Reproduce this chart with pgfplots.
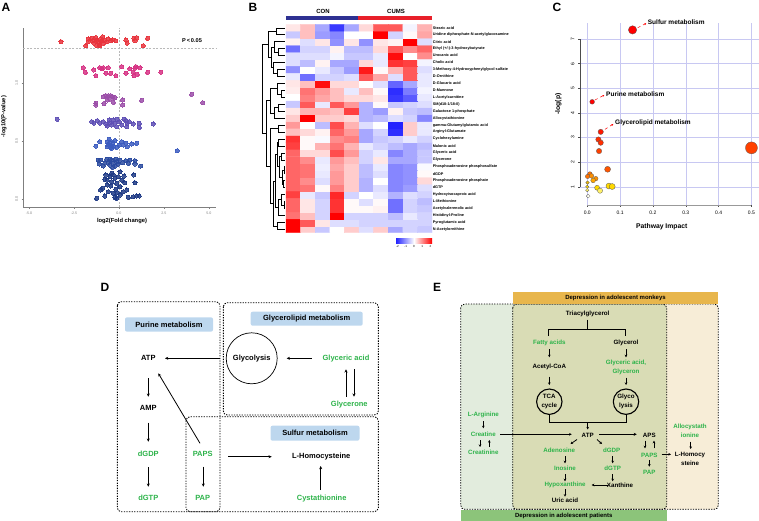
\documentclass[border=0pt]{standalone}
\usepackage{pgfplots}
\pgfplotsset{compat=1.18}
\usepackage{fontspec}
\setmainfont{Liberation Sans}
\usetikzlibrary{arrows.meta}
\definecolor{cR}{HTML}{E8333C}
\definecolor{cP}{HTML}{D63384}
\definecolor{cU}{HTML}{9B4EA8}
\definecolor{cBP}{HTML}{5E4FB5}
\definecolor{cB}{HTML}{3B5BBF}
\definecolor{cDB}{HTML}{2A4A9F}
\definecolor{cN}{HTML}{1E3A85}
\definecolor{axgray}{HTML}{7F7F7F}
\definecolor{h1}{HTML}{FF0000}
\definecolor{h2}{HTML}{FF1800}
\definecolor{h3}{HTML}{FF2E00}
\definecolor{h4}{HTML}{FF4000}
\definecolor{h5}{HTML}{FF5500}
\definecolor{h6}{HTML}{FF7000}
\definecolor{h7}{HTML}{FF9000}
\definecolor{h8}{HTML}{FFA500}
\definecolor{h9}{HTML}{F0B800}
\definecolor{h10}{HTML}{FFD800}
\definecolor{h11}{HTML}{FFF066}
\definecolor{h12}{HTML}{FFFFF0}
\definecolor{gridc}{HTML}{C8C8F2}
\definecolor{mg}{HTML}{2DB34A}
\definecolor{lb}{HTML}{BDD7EE}
\definecolor{eLeft}{HTML}{E2ECDD}
\definecolor{eMid}{HTML}{D9DCB5}
\definecolor{eRight}{HTML}{F7EDD7}
\definecolor{eTop}{HTML}{E8B64C}
\definecolor{eBot}{HTML}{8CC47A}
\definecolor{conC}{HTML}{2E3192}
\definecolor{cumC}{HTML}{E8202A}
\definecolor{cbBlue}{RGB}{35,35,255}
\tikzset{
 dt/.style={font=\fontsize{7.5}{9}\selectfont\bfseries, inner sep=0pt},
 et/.style={font=\fontsize{6.2}{8.7}\selectfont\bfseries, inner sep=0pt, align=center},
 dar/.style={line width=0.8pt, -{Stealth[length=3.2pt,width=3pt]}},
 ear/.style={line width=0.8pt, -{Stealth[length=2.6pt,width=2.6pt]}},
 dbox/.style={line width=0.9pt, dash pattern=on 1.3pt off 1.3pt, rounded corners=4pt},
 lett/.style={font=\fontsize{12}{12}\selectfont\bfseries, inner sep=0pt},
 cbl/.style={font=\fontsize{3}{3}\selectfont},
}
\pgfplotsset{dots/.style={#1, only marks, mark=*, mark size=2.05pt, mark options={draw=#1, fill=#1, line width=0pt}, opacity=0.85}}
\newcommand{\dd}[5]{\draw[line width=0.45pt] (axis cs:#2,#1) -- (axis cs:#5,#1) -- (axis cs:#5,#3) -- (axis cs:#4,#3);}
\newcommand{\bub}[4]{\addplot[only marks, mark=*, mark size=#3pt, mark options={fill=#4, draw=black!65, line width=0.3pt}] coordinates {(#1,#2)};}
\begin{document}
\begin{tikzpicture}
\useasboundingbox (0,0) rectangle (759pt,-521pt);
% ---------------- Panel A
\begin{axis}[at={(23pt,-207pt)}, anchor=south west, width=193pt, height=179pt, scale only axis,
  xmin=-5.33, xmax=5.39, ymin=-0.069, ymax=1.479,
  axis x line=bottom, axis y line=left, axis line style={-, draw=axgray, line width=0.5pt},
  xtick={-5,-2.5,0,2.5,5}, xticklabels={-5.0,-2.5,0.0,2.5,5.0},
  ytick={0,0.5,1}, yticklabels={0.0,0.5,1.0},
  tick align=outside, major tick length=1.5pt, tick style={draw=axgray, line width=0.4pt},
  tick label style={font=\fontsize{3.6}{4}\selectfont, text=axgray},
  yticklabel style={rotate=90, anchor=south},
  clip=false]
\draw[gray!55, dash pattern=on 2pt off 1.5pt, line width=0.5pt] (axis cs:0,-0.069) -- (axis cs:0,1.479);
\draw[gray!55, dash pattern=on 2pt off 1.5pt, line width=0.5pt] (axis cs:-5.33,1.301) -- (axis cs:5.39,1.301);
\addplot[dots=cR] coordinates {(-3.22,1.361)(-1.85,1.324)(-1.70,1.384)(-1.70,1.361)(-1.52,1.39)(-1.46,1.367)(-1.39,1.347)(-1.28,1.396)(-1.24,1.326)(-1.20,1.375)(-1.15,1.355)(-1.09,1.332)(-1.06,1.326)(-1.02,1.384)(-0.96,1.367)(-0.91,1.404)(-0.87,1.347)(-0.78,1.375)(-0.69,1.361)(-0.59,1.384)(-0.46,1.367)(-0.35,1.375)(-0.17,1.367)(0.39,1.375)(0.46,1.347)(0.83,1.39)(0.89,1.367)(0.98,1.396)(1.35,1.326)(1.59,1.39)};
\addplot[dots=cP] coordinates {(-1.98,1.136)(-1.87,1.096)(-1.39,1.116)(-1.28,1.067)(-1.06,1.136)(-0.96,1.125)(-0.87,1.136)(-0.72,1.087)(-0.59,1.136)(-0.46,1.087)(-0.17,1.067)(0.15,1.145)(0.39,1.087)(0.61,1.125)(0.80,1.096)(0.89,1.13)(0.94,1.145)(0.83,1.067)(1.02,1.078)(1.17,1.136)(1.59,1.096)(2.33,1.096)};
\addplot[dots=cU] coordinates {(-1.28,0.828)(-1.28,0.813)(-0.87,0.885)(-0.72,0.894)(-0.59,0.894)(-0.46,0.894)(-0.35,0.885)(-0.65,0.856)(-0.83,0.825)(-0.50,0.865)(-0.31,0.836)(-0.22,0.877)(0.20,0.856)(0.20,0.813)(1.26,0.853)(4.04,0.905)(4.65,0.833)};
\addplot[dots=cBP] coordinates {(-3.43,0.689)(-1.52,0.669)(-1.39,0.655)(-1.20,0.678)(-1.06,0.655)(-0.87,0.669)(-0.72,0.649)(-0.65,0.631)(-0.50,0.66)(-0.41,0.64)(-0.31,0.683)(-0.22,0.655)(-0.13,0.626)(0.02,0.669)(0.15,0.64)(0.28,0.689)(0.39,0.678)(0.46,0.655)(0.57,0.669)(0.43,0.626)(0.80,0.649)(1.13,0.655)(1.13,0.62)(1.91,0.649)(-0.54,0.683)(-0.09,0.689)};
\addplot[dots=cB] coordinates {(-1.28,0.458)(-1.06,0.496)(-0.65,0.496)(-0.59,0.467)(-0.50,0.487)(-0.46,0.447)(-0.35,0.482)(-0.31,0.458)(-0.22,0.505)(-0.41,0.438)(-0.65,0.453)(-0.13,0.447)(0.15,0.496)(0.24,0.467)(0.39,0.482)(0.46,0.453)(0.70,0.476)(0.98,0.482)(3.24,0.418)(-0.54,0.516)(0.02,0.467)};
\addplot[dots=cDB] coordinates {(-1.09,0.303)(-1.02,0.337)(-0.87,0.285)(-0.69,0.343)(-0.59,0.314)(-0.50,0.294)(-0.41,0.337)(-0.31,0.309)(-0.22,0.285)(-0.13,0.323)(-0.04,0.303)(-0.78,0.309)(-0.35,0.274)(0.06,0.337)(0.20,0.314)(0.39,0.332)(0.52,0.309)(0.61,0.337)(0.89,0.332)(0.89,0.303)(1.20,0.285)(-1.15,0.337)(-0.50,0.343)(-0.17,0.343)};
\addplot[dots=cN] coordinates {(-0.72,0.208)(-0.65,0.164)(-0.50,0.193)(-0.41,0.150)(-0.31,0.208)(-0.22,0.179)(-0.13,0.136)(-0.04,0.193)(0.15,0.164)(0.28,0.199)(0.06,0.107)(-0.46,0.112)(-0.65,0.121)(-0.17,0.084)(-1.02,0.078)(-0.91,0.092)(-0.59,0.063)(-0.31,0.049)(-0.09,0.055)(0.06,0.035)(0.24,0.063)(0.43,0.078)(-1.24,0.006)(-0.78,0.026)(-0.22,0.014)(-0.13,0.006)(0.52,0.014)(0.80,0.020)(0.98,0.026)(1.13,0.026)(0.89,0.141)(0.83,0.208)(-0.78,0.170)(0.06,0.236)(0.33,0.141)(-0.41,0.222)};
\end{axis}
% ---------------- Panel B heatmap
\begin{axis}[at={(286pt,-232.7pt)}, anchor=south west, width=146pt, height=208.4pt, scale only axis,
  xmin=0.5, xmax=10.5, ymin=0.5, ymax=30.5, clip=false,
  axis line style={draw=none}, xtick=\empty,
  ytick={1,...,30}, yticklabel pos=right, major tick length=0pt, ytick style={draw=none},
  yticklabel style={font=\fontsize{3.8}{4}\selectfont\bfseries, inner sep=0.6pt},
  yticklabels={N-Acetylornithine,Pyroglutamic acid,Histidinyl-Proline,Acetylvalerenolic acid,L-Methionine,Hydroxyisocaproic acid,dGTP,Phosphoadenosine phosphate,dGDP,Phosphoadenosine phosphosulfate,Glycerone,Glyceric acid,Malonic acid,Cyclohexylamine,Arginyl-Glutamate,gamma-Glutamylglutamic acid,Allocystathionine,Galactose 1-phosphate,SM(d18:1/18:0),L-Acetylcarnitine,D-Mannose,D-Glucaric acid,D-Ornithine,3-Methoxy-4-Hydroxyphenylglycol sulfate,Cholic acid,Urocanic acid,Ethyl (+/-)-3-hydroxybutyrate,Citric acid,Uridine diphosphate-N-acetylglucosamine,Stearic acid},
  colormap={bwr}{rgb255=(35,35,255) rgb255=(255,255,255) rgb255=(255,0,0)},
  point meta min=-2, point meta max=2]
\addplot[matrix plot*, mesh/cols=10, point meta=explicit] table[row sep=\\, meta=c] {
x y c\\
1 1 2.0\\ 2 1 0.4\\ 3 1 -0.5\\ 4 1 0.0\\ 5 1 0.4\\ 6 1 -0.3\\ 7 1 0.4\\ 8 1 -0.8\\ 9 1 -0.4\\ 10 1 -0.5\\
1 2 2.0\\ 2 2 1.3\\ 3 2 0.2\\ 4 2 -0.3\\ 5 2 -0.3\\ 6 2 -0.4\\ 7 2 -0.4\\ 8 2 -0.4\\ 9 2 -0.4\\ 10 2 -0.4\\
1 3 1.1\\ 2 3 0.5\\ 3 3 -0.4\\ 4 3 2.0\\ 5 3 -0.4\\ 6 3 -0.4\\ 7 3 -0.4\\ 8 3 -0.6\\ 9 3 -0.2\\ 10 3 -0.4\\
1 4 1.2\\ 2 4 0.2\\ 3 4 -0.4\\ 4 4 1.6\\ 5 4 0.05\\ 6 4 0.05\\ 7 4 0.1\\ 8 4 -1.3\\ 9 4 -0.4\\ 10 4 -0.5\\
1 5 1.2\\ 2 5 0.2\\ 3 5 -0.4\\ 4 5 1.6\\ 5 5 0.05\\ 6 5 -0.3\\ 7 5 0.05\\ 8 5 -1.3\\ 9 5 -0.4\\ 10 5 -0.6\\
1 6 1.5\\ 2 6 -0.2\\ 3 6 -0.5\\ 4 6 1.7\\ 5 6 -0.4\\ 6 6 0.0\\ 7 6 -0.2\\ 8 6 -0.7\\ 9 6 -0.3\\ 10 6 -0.4\\
1 7 1.2\\ 2 7 1.1\\ 3 7 0.05\\ 4 7 1.0\\ 5 7 0.4\\ 6 7 -0.7\\ 7 7 -0.3\\ 8 7 -1.1\\ 9 7 -0.9\\ 10 7 -0.3\\
1 8 1.2\\ 2 8 0.9\\ 3 8 -0.3\\ 4 8 0.8\\ 5 8 0.4\\ 6 8 -0.7\\ 7 8 0.0\\ 8 8 -1.1\\ 9 8 -1.0\\ 10 8 0.3\\
1 9 1.2\\ 2 9 1.1\\ 3 9 -0.2\\ 4 9 0.8\\ 5 9 0.4\\ 6 9 -0.6\\ 7 9 -0.3\\ 8 9 -1.1\\ 9 9 -1.0\\ 10 9 0.05\\
1 10 1.2\\ 2 10 1.1\\ 3 10 -0.15\\ 4 10 0.7\\ 5 10 0.4\\ 6 10 -0.6\\ 7 10 -0.2\\ 8 10 -1.1\\ 9 10 -1.0\\ 10 10 -0.05\\
1 11 1.2\\ 2 11 0.9\\ 3 11 -0.2\\ 4 11 0.8\\ 5 11 0.5\\ 6 11 -0.4\\ 7 11 0.2\\ 8 11 -0.8\\ 9 11 -0.8\\ 10 11 -0.5\\
1 12 1.2\\ 2 12 0.3\\ 3 12 0.3\\ 4 12 1.4\\ 5 12 0.8\\ 6 12 -0.4\\ 7 12 -0.2\\ 8 12 -1.1\\ 9 12 -0.8\\ 10 12 -0.5\\
1 13 1.5\\ 2 13 0.05\\ 3 13 0.6\\ 4 13 1.1\\ 5 13 0.6\\ 6 13 -0.2\\ 7 13 -0.4\\ 8 13 -0.6\\ 9 13 -0.8\\ 10 13 -0.6\\
1 14 1.6\\ 2 14 0.05\\ 3 14 -0.05\\ 4 14 0.9\\ 5 14 1.0\\ 6 14 -0.8\\ 7 14 -0.5\\ 8 14 -0.4\\ 9 14 -0.2\\ 10 14 -0.4\\
1 15 0.5\\ 2 15 0.3\\ 3 15 0.1\\ 4 15 1.2\\ 5 15 0.8\\ 6 15 -0.8\\ 7 15 -0.4\\ 8 15 -1.9\\ 9 15 0.4\\ 10 15 -0.2\\
1 16 0.8\\ 2 16 0.0\\ 3 16 -0.6\\ 4 16 1.4\\ 5 16 0.6\\ 6 16 -0.3\\ 7 16 0.0\\ 8 16 -2.0\\ 9 16 0.4\\ 10 16 -0.2\\
1 17 0.4\\ 2 17 2.0\\ 3 17 0.4\\ 4 17 0.4\\ 5 17 0.3\\ 6 17 -0.7\\ 7 17 -0.6\\ 8 17 -0.3\\ 9 17 -0.4\\ 10 17 -1.1\\
1 18 0.2\\ 2 18 0.6\\ 3 18 0.6\\ 4 18 0.5\\ 5 18 1.5\\ 6 18 -0.7\\ 7 18 -0.9\\ 8 18 0.1\\ 9 18 -0.5\\ 10 18 -0.6\\
1 19 -0.5\\ 2 19 1.3\\ 3 19 -0.2\\ 4 19 1.3\\ 5 19 0.8\\ 6 19 -0.7\\ 7 19 0.05\\ 8 19 -0.5\\ 9 19 -0.4\\ 10 19 -0.3\\
1 20 0.0\\ 2 20 1.0\\ 3 20 0.7\\ 4 20 0.5\\ 5 20 0.3\\ 6 20 0.3\\ 7 20 0.2\\ 8 20 -1.8\\ 9 20 -1.5\\ 10 20 -0.2\\
1 21 0.15\\ 2 21 1.1\\ 3 21 0.8\\ 4 21 0.5\\ 5 21 -0.2\\ 6 21 0.5\\ 7 21 0.05\\ 8 21 -1.9\\ 9 21 -1.2\\ 10 21 -0.1\\
1 22 0.2\\ 2 22 0.5\\ 3 22 1.9\\ 4 22 0.3\\ 5 22 0.3\\ 6 22 0.0\\ 7 22 -0.3\\ 8 22 -1.4\\ 9 22 -0.8\\ 10 22 -0.2\\
1 23 -0.2\\ 2 23 -1.3\\ 3 23 -0.4\\ 4 23 -0.4\\ 5 23 -0.3\\ 6 23 1.3\\ 7 23 0.7\\ 8 23 -0.3\\ 9 23 1.3\\ 10 23 -0.2\\
1 24 -1.0\\ 2 24 0.0\\ 3 24 -0.2\\ 4 24 -0.5\\ 5 24 -0.9\\ 6 24 1.8\\ 7 24 0.05\\ 8 24 0.6\\ 9 24 1.3\\ 10 24 -0.3\\
1 25 -0.3\\ 2 25 -0.6\\ 3 25 0.1\\ 4 25 -0.8\\ 5 25 -0.8\\ 6 25 0.3\\ 7 25 -0.2\\ 8 25 1.6\\ 9 25 1.5\\ 10 25 -0.1\\
1 26 -0.3\\ 2 26 -0.3\\ 3 26 -0.3\\ 4 26 -0.1\\ 5 26 -0.5\\ 6 26 -0.5\\ 7 26 -0.2\\ 8 26 1.9\\ 9 26 0.0\\ 10 26 0.9\\
1 27 -1.3\\ 2 27 -0.4\\ 3 27 -0.4\\ 4 27 0.1\\ 5 27 -0.6\\ 6 27 -0.6\\ 7 27 0.3\\ 8 27 1.3\\ 9 27 0.9\\ 10 27 1.2\\
1 28 0.1\\ 2 28 -0.3\\ 3 28 0.2\\ 4 28 -1.0\\ 5 28 0.2\\ 6 28 -1.0\\ 7 28 0.2\\ 8 28 0.1\\ 9 28 2.0\\ 10 28 -0.3\\
1 29 -0.5\\ 2 29 0.5\\ 3 29 -0.9\\ 4 29 -1.1\\ 5 29 0.0\\ 6 29 0.0\\ 7 29 2.0\\ 8 29 -0.4\\ 9 29 0.05\\ 10 29 0.7\\
1 30 0.2\\ 2 30 0.5\\ 3 30 -0.8\\ 4 30 -1.8\\ 5 30 -0.8\\ 6 30 0.3\\ 7 30 1.3\\ 8 30 1.3\\ 9 30 -0.1\\ 10 30 0.6\\
};
\dd{30}{0.42}{29}{0.42}{-0.2}
\dd{27}{0.42}{26}{0.42}{0}
\dd{28}{0.42}{26.5}{0}{-0.3}
\dd{24}{0.42}{23}{0.42}{-0.1}
\dd{25}{0.42}{23.5}{-0.1}{-0.4}
\dd{27.25}{-0.3}{24.25}{-0.4}{-0.5}
\dd{29.5}{-0.2}{25.75}{-0.5}{-0.7}
\dd{21}{0.42}{20}{0.42}{0.15}
\dd{22}{0.42}{20.5}{0.15}{-0.1}
\dd{19}{0.42}{18}{0.42}{0}
\dd{18.5}{0}{17}{0.42}{-0.3}
\dd{21.25}{-0.1}{17.75}{-0.3}{-0.6}
\dd{16}{0.42}{15}{0.42}{0}
\dd{14}{0.42}{13}{0.42}{0}
\dd{12}{0.42}{11}{0.42}{0.15}
\dd{10}{0.42}{9}{0.42}{0.35}
\dd{8}{0.42}{7}{0.42}{0.3}
\dd{9.5}{0.35}{7.5}{0.3}{0.22}
\dd{11.5}{0.15}{8.5}{0.22}{0.05}
\dd{13.5}{0}{10}{0.05}{-0.1}
\dd{5}{0.42}{4}{0.42}{0.35}
\dd{6}{0.42}{4.5}{0.35}{0.15}
\dd{5.25}{0.15}{3}{0.42}{-0.05}
\dd{11.75}{-0.1}{4.125}{-0.05}{-0.25}
\dd{2}{0.42}{1}{0.42}{-0.1}
\dd{7.94}{-0.25}{1.5}{-0.1}{-0.4}
\dd{15.5}{0}{4.72}{-0.4}{-0.55}
\dd{19.5}{-0.6}{10.11}{-0.55}{-0.85}
\dd{27.625}{-0.7}{14.8}{-0.85}{-1.1}
\end{axis}
% ---------------- Panel C
\begin{axis}[at={(580pt,-205pt)}, anchor=south west, width=179pt, height=182pt, scale only axis,
  xmin=-0.022, xmax=0.523, ymin=0.26, ymax=7.65, clip=false,
  axis line style={draw=none},
  xtick={0,0.1,0.2,0.3,0.4,0.5}, xticklabels={0.0,0.1,0.2,0.3,0.4,0.5},
  ytick={1,2,3,4,5,6,7}, yticklabels={1,2,3,4,5,6,7},
  xtick pos=bottom, ytick pos=left,
  tick align=outside, major tick length=2pt, tick style={draw=black!70, line width=0.4pt},
  tick label style={font=\fontsize{5}{6}\selectfont},
  yticklabel style={rotate=90, anchor=south},
  grid=major, major grid style={draw=gridc, line width=0.45pt}]
\draw[black!70, line width=0.4pt] (axis cs:-0.022,1) -- (axis cs:-0.022,7);
\draw[black!40, line width=0.4pt] (axis cs:0,0.26) -- (axis cs:0.5,0.26);
\bub{0.138}{7.37}{4.2}{h1}
\bub{0.015}{4.45}{2.4}{h1}
\bub{0.041}{3.23}{2.7}{h2}
\bub{0.034}{2.92}{2.7}{h3}
\bub{0.041}{2.79}{2.7}{h3}
\bub{0.036}{2.45}{2.7}{h4}
\bub{0.5}{2.58}{6}{h4}
\bub{0.062}{1.71}{3.0}{h5}
\bub{0.008}{1.52}{2.3}{h6}
\bub{0.001}{1.42}{2.2}{h6}
\bub{0.013}{1.44}{2.3}{h7}
\bub{0.026}{1.33}{2.3}{h7}
\bub{0.018}{1.26}{2.4}{h8}
\bub{0.001}{1.17}{1.8}{h9}
\bub{0.0}{1.0}{1.7}{h10}
\bub{0.0}{0.86}{1.7}{h11}
\bub{0.003}{0.62}{1.9}{h12}
\bub{0.030}{0.96}{2.5}{h10}
\bub{0.039}{0.84}{2.6}{h11}
\bub{0.066}{1.03}{3.0}{h10}
\bub{0.076}{1.01}{3.0}{h10}
\end{axis}
% ---------------- Canvas for text and diagrams
\begin{axis}[at={(0pt,-521pt)}, anchor=south west, width=759pt, height=521pt, scale only axis,
  xmin=0, xmax=759, ymin=-521, ymax=0, axis lines=none, clip=false]
\addplot[draw=none] coordinates {(0,0)};
% letters
\node[lett] at (6,-7.5) {A};
\node[lett] at (253,-7.5) {B};
\node[lett] at (557,-7.5) {C};
\node[lett] at (105,-287) {D};
\node[lett] at (437,-287) {E};
% panel A labels
\node[font=\fontsize{5.6}{6}\selectfont\bfseries] at (192,-40.7) {P\,<\,0.05};
\node[font=\fontsize{5.8}{6}\selectfont\bfseries] at (122,-220.7) {log2(Fold change)};
\node[font=\fontsize{5.8}{6}\selectfont\bfseries, rotate=90] at (4,-116.7) {-log10(P-value)};
% panel B header
\fill[conC] (286,-16) rectangle (358,-20);
\fill[cumC] (358,-16) rectangle (432,-20);
\node[font=\fontsize{6}{6}\selectfont\bfseries] at (323,-11) {CON};
\node[font=\fontsize{6}{6}\selectfont\bfseries] at (396,-11) {CUMS};
\shade[left color=cbBlue, right color=red, middle color=white] (396,-238) rectangle (432,-243);
\node[cbl] at (397.5,-246.5) {-2};
\node[cbl] at (405.75,-246.5) {-1};
\node[cbl] at (414,-246.5) {0};
\node[cbl] at (422.25,-246.5) {1};
\node[cbl] at (430.5,-246.5) {2};
% panel C labels
\node[font=\fontsize{6.8}{7}\selectfont\bfseries] at (661.7,-226.7) {Pathway Impact};
\node[font=\fontsize{6.8}{7}\selectfont\bfseries, rotate=90] at (558.3,-104) {-log(p)};
\draw[red, dashed, line width=0.5pt, -{Stealth[length=2pt,width=2pt]}] (637.7,-27.7) -- (646.3,-23.3);
\node[font=\fontsize{6.5}{7}\selectfont\bfseries, anchor=west, inner sep=0pt] at (647.7,-22.3) {Sulfur metabolism};
\draw[red, dashed, line width=0.5pt, -{Stealth[length=2pt,width=2pt]}] (595,-100) -- (604.3,-95);
\node[font=\fontsize{6.5}{7}\selectfont\bfseries, anchor=west, inner sep=0pt] at (606,-94.3) {Purine metabolism};
\draw[red, dashed, line width=0.5pt, -{Stealth[length=2pt,width=2pt]}] (605,-129.3) -- (613.3,-124);
\node[font=\fontsize{6.5}{7}\selectfont\bfseries, anchor=west, inner sep=0pt] at (615,-123.3) {Glycerolipid metabolism};
% ---------------- Panel D
\draw[dbox] (117.3,-301.7) rectangle (220,-511.7);
\draw[dbox] (223.3,-302.7) rectangle (378.3,-415);
\draw[dbox] (186,-416.7) rectangle (378.3,-511.7);
\node[dt, fill=lb, rounded corners=2pt, minimum width=88pt, minimum height=14.4pt] at (169,-324.5) {Purine metabolism};
\node[dt, fill=lb, rounded corners=2pt, minimum width=112pt, minimum height=14pt] at (306.7,-318.7) {Glycerolipid metabolism};
\node[dt, fill=lb, rounded corners=2pt, minimum width=89pt, minimum height=15pt] at (315,-433.2) {Sulfur metabolism};
\node[dt] at (148.3,-358.3) {ATP};
\node[dt] at (148.3,-408.3) {AMP};
\node[dt, text=mg] at (148.3,-454) {dGDP};
\node[dt, text=mg] at (148.3,-498.3) {dGTP};
\node[dt, text=mg] at (202.7,-454) {PAPS};
\node[dt, text=mg] at (202.7,-498.3) {PAP};
\draw[line width=0.7pt] (251.7,-358.3) circle[radius=25.5pt];
\node[dt] at (251.7,-358.3) {Glycolysis};
\node[dt, text=mg] at (346,-358.3) {Glyceric acid};
\node[dt, text=mg] at (349.3,-405) {Glycerone};
\node[dt] at (321.2,-456.7) {L-Homocysteine};
\node[dt, text=mg] at (321.7,-498.3) {Cystathionine};
\draw[dar] (220,-358.3) -- (165,-358.3);
\draw[dar] (311.7,-358.3) -- (286.7,-358.3);
\draw[dar] (148.3,-378.3) -- (148.3,-396.7);
\draw[dar] (148.3,-422.7) -- (148.3,-441.7);
\draw[dar] (148.3,-467.3) -- (148.3,-486.7);
\draw[dar] (200,-443.3) -- (158.3,-373.3);
\draw[dar] (203.3,-466.7) -- (203.3,-486.7);
\draw[dar] (228.3,-456.7) -- (271.7,-456.7);
\draw[dar] (320.7,-490) -- (320.7,-466);
\draw[dar] (346,-396.7) -- (346,-369.3);
\draw[dar] (354,-369.3) -- (354,-396.7);
% ---------------- Panel E
\fill[eLeft, rounded corners=4pt] (460.7,-304) rectangle (530,-509.3);
\fill[eRight, rounded corners=4pt] (650,-304) rectangle (718.3,-509.3);
\fill[eMid, rounded corners=4pt] (512.7,-304) rectangle (666.7,-509.3);
\draw[dbox, line width=0.8pt] (512.7,-304) rectangle (666.7,-509.3);
\draw[dbox, line width=0.8pt] (460.7,-304) rectangle (718.3,-509.3);
\fill[eTop] (512.7,-291.7) rectangle (718.3,-304);
\node[font=\fontsize{6}{7}\selectfont\bfseries] at (615.5,-297.8) {Depression in adolescent monkeys};
\fill[eBot] (460.7,-510.3) rectangle (666.7,-521);
\node[font=\fontsize{6}{7}\selectfont\bfseries] at (563.7,-515.6) {Depression in adolescent patients};
\node[et] at (587.7,-314) {Triacylglycerol};
\draw[line width=0.9pt] (587.7,-319.5) -- (587.7,-329.3);
\draw[line width=0.9pt] (548.3,-336) -- (548.3,-329.3) -- (625.7,-329.3) -- (625.7,-336);
\node[et, text=mg] at (549.3,-343.3) {Fatty acids};
\node[et] at (626,-343.3) {Glycerol};
\draw[ear] (549.3,-349.3) -- (549.3,-357.3);
\draw[ear] (626,-349.3) -- (626,-357.3);
\node[et] at (549.3,-367.3) {Acetyl-CoA};
\node[et, text=mg] at (626,-367.7) {Glyceric acid,\\Glyceron};
\draw[ear] (549.3,-376.7) -- (549.3,-385);
\draw[ear] (626,-377.7) -- (626,-385);
\draw[line width=1.1pt] (549.3,-401.7) circle[radius=12.7pt];
\draw[line width=1.1pt] (626,-401.7) circle[radius=12.7pt];
\node[et] at (549.3,-401.7) {TCA\\cycle};
\node[et] at (626,-401.7) {Glyco\\lysis};
\draw[line width=0.9pt] (549.3,-414.4) -- (549.3,-422.7) -- (626,-422.7) -- (626,-414.4);
\draw[ear] (587.7,-422.7) -- (587.7,-429.5);
\node[et] at (587.7,-435) {ATP};
\node[et, text=mg] at (483.3,-415) {L-Arginine};
\draw[ear] (483.3,-421) -- (483.3,-428.3);
\node[et, text=mg] at (483.3,-434.3) {Creatine};
\draw[ear] (500,-434.3) -- (571.7,-434.3);
\draw[ear] (480,-440) -- (480,-447);
\draw[ear] (489.3,-447) -- (489.3,-440);
\node[et, text=mg] at (483.3,-452.7) {Creatinine};
\draw[line width=1.1pt, -{Stealth[length=3pt,width=3pt]}] (599.3,-434.3) -- (636.7,-434.3);
\node[et] at (649.3,-435) {APS};
\draw[ear] (645,-440.7) -- (645,-448.3);
\draw[ear] (654,-448.3) -- (654,-440.7);
\node[et, text=mg] at (649.3,-455) {PAPS};
\draw[ear] (661.7,-454.3) -- (671,-454.3);
\node[et] at (690,-458.8) {L-Homocy\\steine};
\node[et, text=mg] at (690,-431) {Allocystath\\ionine};
\draw[ear] (690.7,-441.7) -- (690.7,-449);
\draw[ear] (649.3,-460) -- (649.3,-466.7);
\node[et, text=mg] at (649.3,-472.7) {PAP};
\draw[ear] (577,-439.5) -- (570.5,-444);
\draw[ear] (597,-439.5) -- (602,-444);
\node[et, text=mg] at (559.3,-450) {Adenosine};
\node[et, text=mg] at (611.7,-450) {dGDP};
\draw[ear] (565,-456) -- (565,-463.3);
\draw[ear] (612.7,-456) -- (612.7,-463.3);
\node[et, text=mg] at (565,-468.7) {Inosine};
\node[et, text=mg] at (612.7,-468.7) {dGTP};
\draw[ear] (565,-474) -- (565,-481.3);
\draw[ear] (612.7,-474) -- (612.7,-481.3);
\node[et, text=mg] at (565,-485) {Hypoxanthine};
\node[et] at (620,-485) {Xanthine};
\draw[ear] (608,-485) -- (591.7,-485);
\draw[ear] (565,-489.3) -- (565,-496.7);
\node[et] at (565,-500.5) {Uric acid};
\end{axis}
\end{tikzpicture}
\end{document}
